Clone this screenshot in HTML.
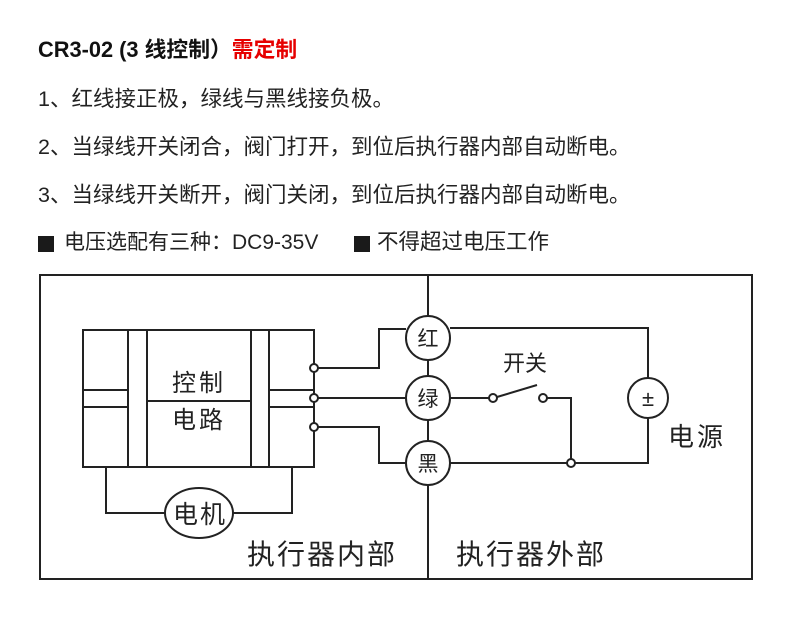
<!DOCTYPE html>
<html><head><meta charset="utf-8"><style>
html,body{margin:0;padding:0;background:#fff;}
body{width:790px;height:617px;position:relative;overflow:hidden;font-family:"Liberation Sans","Noto Sans CJK SC",sans-serif;color:#222;}
.t{position:absolute;left:38px;font-size:21.5px;white-space:nowrap;line-height:1;}
.sq{position:absolute;width:16px;height:16px;background:#1a1a1a;top:236px;}
svg{position:absolute;left:0;top:0;}
</style></head><body>
<div class="t" style="top:39px;font-weight:bold;font-size:21.8px;color:#111;">CR3-02 (3 线控制）<span style="color:#e60000">需定制</span></div>
<div class="t" style="top:89px;">1、红线接正极，绿线与黑线接负极。</div>
<div class="t" style="top:137px;">2、当绿线开关闭合，阀门打开，到位后执行器内部自动断电。</div>
<div class="t" style="top:185px;">3、当绿线开关断开，阀门关闭，到位后执行器内部自动断电。</div>
<div class="sq" style="left:38px"></div>
<div class="t" style="top:232px;left:64px;font-size:21px;">电压选配有三种：DC9-35V</div>
<div class="sq" style="left:354px"></div>
<div class="t" style="top:232px;left:377px;font-size:21.5px;">不得超过电压工作</div>
<svg width="790" height="617" viewBox="0 0 790 617" font-family="Liberation Sans, Noto Sans CJK SC, sans-serif" fill="none" stroke="#222" stroke-width="2">
<rect x="40" y="275" width="712" height="304"/>
<line x1="428" y1="275" x2="428" y2="579"/>
<rect x="83" y="330" width="231" height="137"/>
<line x1="128" y1="330" x2="128" y2="467"/><line x1="147" y1="330" x2="147" y2="467"/>
<line x1="251" y1="330" x2="251" y2="467"/><line x1="269" y1="330" x2="269" y2="467"/>
<line x1="83" y1="390" x2="128" y2="390"/><line x1="83" y1="407" x2="128" y2="407"/>
<line x1="269" y1="390" x2="314" y2="390"/><line x1="269" y1="407" x2="314" y2="407"/>
<line x1="147" y1="401" x2="251" y2="401"/>
<polyline points="318,368 379,368 379,329 406,329"/>
<line x1="318" y1="398" x2="406" y2="398"/>
<polyline points="318,427 379,427 379,463 406,463"/>
<polyline points="106,467 106,513 165,513"/>
<polyline points="292,467 292,513 233,513"/>
<ellipse cx="199" cy="513" rx="34" ry="25" fill="#fff"/>
<circle cx="428" cy="338" r="22" fill="#fff"/>
<circle cx="428" cy="398" r="22" fill="#fff"/>
<circle cx="428" cy="463" r="22" fill="#fff"/>
<polyline points="450,328 648,328 648,378"/>
<polyline points="648,418 648,463 450,463"/>
<circle cx="648" cy="398" r="20" fill="#fff"/>
<line x1="450" y1="398" x2="489" y2="398"/>
<line x1="497" y1="397" x2="537" y2="385"/>
<polyline points="547,398 571,398 571,463"/>
<circle cx="314" cy="368" r="4" fill="#fff"/>
<circle cx="314" cy="398" r="4" fill="#fff"/>
<circle cx="314" cy="427" r="4" fill="#fff"/>
<circle cx="493" cy="398" r="4" fill="#fff"/>
<circle cx="543" cy="398" r="4" fill="#fff"/>
<circle cx="571" cy="463" r="4" fill="#fff"/>
<g fill="#222" stroke="none" text-anchor="middle">
<text x="199" y="391" font-size="24" letter-spacing="3">控制</text>
<text x="199" y="428" font-size="24" letter-spacing="3">电路</text>
<text x="200" y="523" font-size="25" letter-spacing="2">电机</text>
<text x="428" y="346" font-size="21">红</text>
<text x="428" y="406" font-size="21">绿</text>
<text x="428" y="471" font-size="21">黑</text>
<text x="648" y="406" font-size="22">±</text>
<text x="525" y="371" font-size="22">开关</text>
<text x="697" y="446" font-size="26" letter-spacing="3">电源</text>
<text x="322" y="564" font-size="28" letter-spacing="2">执行器内部</text>
<text x="531" y="564" font-size="28" letter-spacing="2">执行器外部</text>
</g>
</svg>
</body></html>
